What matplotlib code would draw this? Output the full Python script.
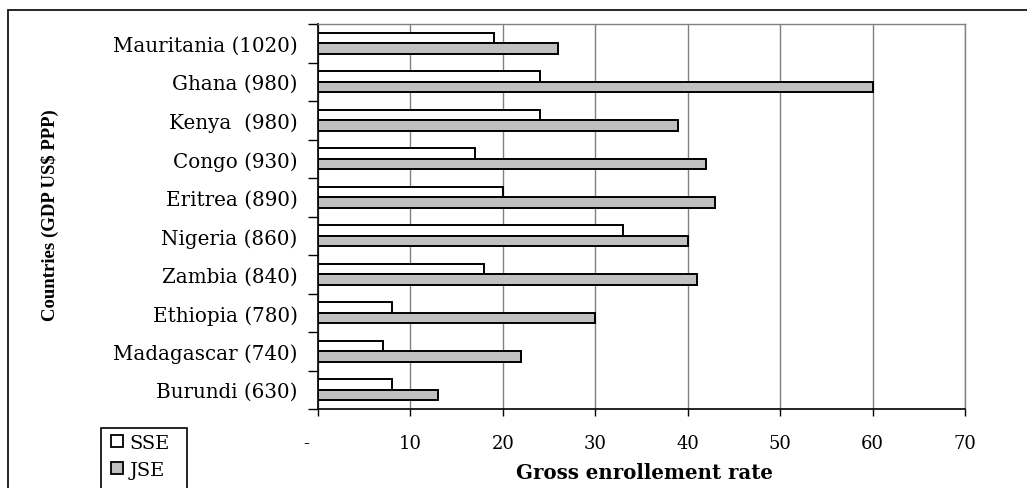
import matplotlib
matplotlib.use("Agg")
import matplotlib.pyplot as plt
import matplotlib.transforms as mtransforms
import numpy as np
from matplotlib.patches import Rectangle
from matplotlib.lines import Line2D

countries = ["Mauritania (1020)", "Ghana (980)", "Kenya  (980)", "Congo (930)",
             "Eritrea (890)", "Nigeria (860)", "Zambia (840)", "Ethiopia (780)",
             "Madagascar (740)", "Burundi (630)"]
sse = [19, 24, 24, 17, 20, 33, 18, 8, 7, 8]
jse = [26, 60, 39, 42, 43, 40, 41, 30, 22, 13]
x_ticks = [0, 10, 20, 30, 40, 50, 60, 70]
x_tick_labels = ["-", "10", "20", "30", "40", "50", "60", "70"]

W, H = 1027, 489
fig = plt.figure(figsize=(W / 100, H / 100), dpi=100)
serif = "Liberation Serif"
wide_serif = "DejaVu Serif"

# plot area in pixel coordinates
left, right, top, bottom = 318, 965, 25, 410
ax = fig.add_axes([left / W, 1 - bottom / H, (right - left) / W, (bottom - top) / H])

y = np.arange(len(countries))
h = 0.27
ax.barh(y - h / 2, sse, height=h, color="white", edgecolor="black", linewidth=1.4, zorder=3)
ax.barh(y + h / 2, jse, height=h, color="#c0c0c0", edgecolor="black", linewidth=1.4, zorder=3)

ax.set_xlim(0, 70)
ax.set_ylim(len(countries) - 0.5, -0.5)

ax.set_xticks(x_ticks)
ax.set_xticklabels(x_tick_labels, fontfamily=wide_serif, fontsize=13)
ax.tick_params(axis="x", direction="out", length=5, width=1, pad=13, color="black")
# the zero label sits a little to the left of its tick
zero_lbl = ax.get_xticklabels()[0]
zero_lbl.set_transform(zero_lbl.get_transform() +
                       mtransforms.ScaledTranslation(-12 / 100, 0, fig.dpi_scale_trans))

# category ticks sit on the band boundaries, labels at band centres
ax.set_yticks(np.arange(len(countries) + 1) - 0.5)
ax.set_yticklabels([])
ax.set_yticks(y, minor=True)
ax.set_yticklabels(countries, minor=True, fontfamily=wide_serif, fontsize=14.3)
ax.tick_params(axis="y", which="major", direction="out", length=7, width=1)
ax.tick_params(axis="y", which="minor", length=0, pad=14.5)

ax.grid(axis="x", color="#808080", linewidth=1, zorder=0)
ax.set_axisbelow(True)
for s in ("top", "right"):
    ax.spines[s].set_color("#808080")
    ax.spines[s].set_linewidth(1)
for s in ("left", "bottom"):
    ax.spines[s].set_color("black")
    ax.spines[s].set_linewidth(1.2)

fig.text(645 / W, 1 - 473 / H, "Gross enrollement rate", ha="center", va="center",
         fontfamily=wide_serif, fontweight="bold", fontsize=14.2)
fig.text(50 / W, 1 - 215 / H, "Countries (GDP US$ PPP)", ha="center", va="center",
         rotation=90, fontfamily=serif, fontweight="bold", fontsize=13.5)

# outer frame
fig.add_artist(Rectangle((8 / W, -0.1), 1.2, 1 - 11 / H + 0.1, transform=fig.transFigure,
                         fill=False, edgecolor="black", linewidth=1.2))

# legend box
fig.add_artist(Rectangle((101 / W, -0.1), (187 - 101) / W, 1 - 429 / H + 0.1,
                         transform=fig.transFigure, fill=False, edgecolor="black",
                         linewidth=1.2))
handles = [Line2D([], [], marker="s", linestyle="", markersize=9, markerfacecolor="white",
                  markeredgecolor="black", markeredgewidth=1.3),
           Line2D([], [], marker="s", linestyle="", markersize=9, markerfacecolor="#c0c0c0",
                  markeredgecolor="black", markeredgewidth=1.3)]
fig.legend(handles, ["SSE", "JSE"], loc="upper left", bbox_to_anchor=(104 / W, 1 - 432 / H),
           frameon=False, prop={"family": wide_serif, "size": 14}, handletextpad=0.15,
           handlelength=1.0, labelspacing=0.45, borderaxespad=0, borderpad=0.15)

fig.savefig("out.png", dpi=100)
